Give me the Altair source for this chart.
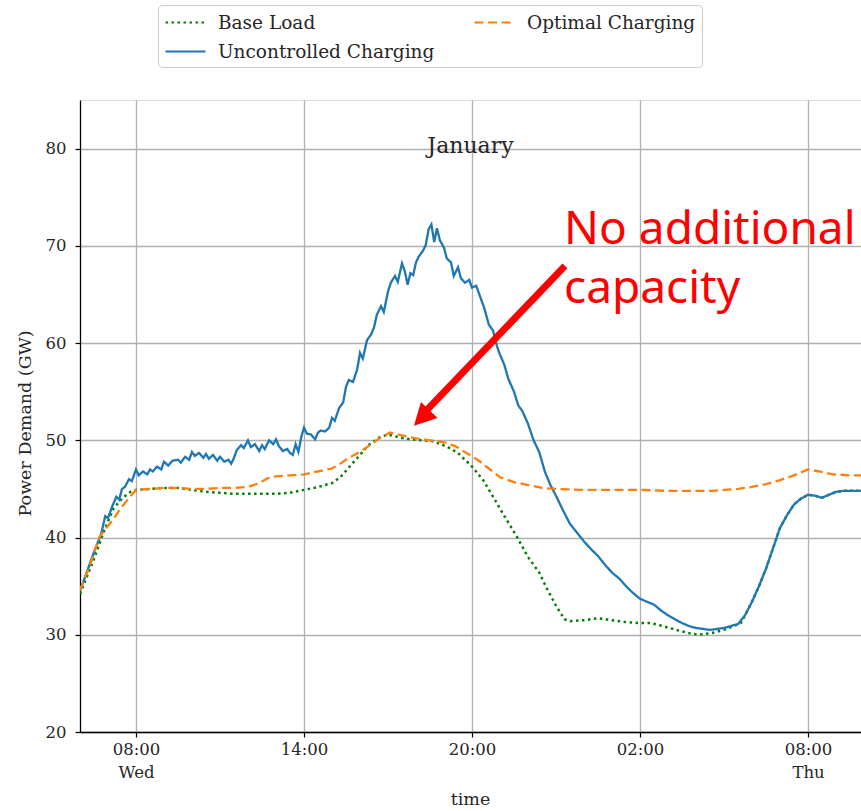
import altair as alt
import pandas as pd

# Hours are counted from Wednesday 00:00; values are in GW.
unc_hours = [6.0, 6.25, 6.5, 6.75, 6.9, 7.0, 7.15, 7.3, 7.4, 7.5, 7.6, 7.75, 7.85,
             8.0, 8.1, 8.25, 8.4, 8.5, 8.6, 8.75, 8.9, 9.0, 9.15, 9.3, 9.5, 9.6, 9.75, 9.9,
             10.0, 10.1, 10.25, 10.4, 10.5, 10.6, 10.75, 10.9, 11.0, 11.15, 11.3, 11.4, 11.5,
             11.6, 11.75, 11.85, 12.0, 12.1, 12.25, 12.4, 12.5, 12.6, 12.75, 12.9, 13.0, 13.1,
             13.25, 13.4, 13.5, 13.6, 13.7, 13.8, 13.9, 14.0, 14.1, 14.25, 14.4, 14.5, 14.6,
             14.75, 14.9, 15.0, 15.1, 15.25, 15.4, 15.5, 15.6, 15.75, 15.9, 16.0, 16.1, 16.25,
             16.4, 16.5, 16.6, 16.75, 16.85, 17.0, 17.1, 17.25, 17.35, 17.5, 17.6, 17.7, 17.8,
             17.9, 18.0, 18.1, 18.25, 18.35, 18.45, 18.55, 18.65, 18.75, 18.85, 19.0, 19.1,
             19.25, 19.35, 19.5, 19.6, 19.75, 19.9, 20.0, 20.15, 20.3, 20.45, 20.6, 20.75,
             20.9, 21.0, 21.15, 21.3, 21.5, 21.65, 21.8, 22.0, 22.2, 22.4, 22.6, 22.8, 23.0,
             23.25, 23.5, 23.75, 24.0, 24.25, 24.5, 24.75, 25.0, 25.25, 25.5, 25.75, 26.0,
             26.25, 26.5, 26.75, 27.0, 27.25, 27.5, 27.75, 28.0, 28.25, 28.5, 28.75, 29.0,
             29.25, 29.5, 29.75, 30.0, 30.25, 30.5, 30.75, 31.0, 31.25, 31.5, 31.75, 32.0,
             32.25, 32.5, 32.75, 33.0, 33.25, 33.5, 33.9]
unc_gw = [34.5, 36.5, 38.5, 40.3, 42.2, 42.0, 43.2, 44.2, 43.9, 45.0, 45.2, 46.0, 45.8,
          47.0, 46.4, 46.8, 46.5, 47.0, 46.8, 47.3, 47.0, 47.8, 47.4, 47.9, 48.0, 47.7, 48.3, 48.0,
          48.8, 48.4, 48.7, 48.2, 48.6, 48.1, 48.5, 47.9, 48.3, 47.8, 48.0, 47.6, 48.2,
          49.0, 49.5, 49.2, 50.0, 49.3, 49.6, 48.9, 49.5, 49.1, 50.0, 49.6, 50.1, 49.4,
          48.9, 49.1, 48.7, 48.5, 49.6, 48.8, 50.3, 51.3, 50.7, 50.6, 50.1, 50.8, 51.0,
          50.9, 51.3, 52.3, 52.0, 53.3, 53.9, 55.5, 56.2, 56.0, 57.3, 59.0, 58.4, 60.3,
          60.9, 61.6, 62.9, 63.8, 63.2, 65.3, 66.2, 66.9, 66.3, 68.2, 67.4, 66.0, 67.2,
          67.0, 68.3, 68.9, 69.5, 70.1, 71.7, 72.2, 70.4, 71.8, 70.6, 69.8, 68.7,
          68.3, 66.9, 67.8, 66.7, 66.2, 66.5, 65.7, 65.9, 64.7, 63.5, 61.9, 61.3,
          59.6, 58.8, 57.8, 56.3, 55.0, 53.6, 53.0, 51.7, 50.0, 48.8, 46.8, 45.4, 44.3,
          42.8, 41.4, 40.5, 39.6, 38.8, 38.1, 37.2, 36.4, 35.8, 35.0, 34.3, 33.7,
          33.4, 33.1, 32.5, 32.0, 31.6, 31.2, 30.9, 30.7, 30.6, 30.5, 30.6, 30.7,
          30.9, 31.1, 32.0, 33.4, 35.0, 36.8, 38.9, 41.0, 42.3, 43.4, 44.0, 44.4,
          44.3, 44.1, 44.4, 44.7, 44.8, 44.8, 44.8]

base_hours = [6.0, 6.5, 6.9, 7.2, 7.5, 7.8, 8.0, 8.5, 9.0, 9.5, 10.0, 10.5, 11.0, 11.5,
              12.0, 12.5, 13.0, 13.5, 14.0, 14.5, 15.0, 15.3, 15.6, 16.0, 16.3, 16.7, 17.0,
              17.4, 17.8, 18.2, 18.6, 18.9, 19.2, 19.5, 20.0, 20.4, 20.75, 21.2, 21.6, 22.0,
              22.4, 22.7, 23.0, 23.3, 23.5, 24.0, 24.5, 25.0, 25.5, 26.0, 26.4, 26.8, 27.3,
              27.7, 28.1, 28.6, 29.1, 29.6, 29.75, 30.0, 30.25, 30.5, 30.75, 31.0, 31.25,
              31.5, 31.75, 32.0, 32.25, 32.5, 32.75, 33.0, 33.25, 33.5, 33.9]
base_gw = [34.2, 37.8, 41.0, 43.0, 44.0, 44.7, 44.9, 45.0, 45.1, 45.1, 44.9, 44.7, 44.6, 44.5,
           44.5, 44.5, 44.5, 44.6, 44.9, 45.2, 45.6, 46.2, 47.2, 48.5, 49.5, 50.3, 50.6,
           50.3, 50.1, 50.0, 49.9, 49.6, 49.2, 48.7, 47.3, 45.9, 44.2, 42.0, 40.1, 38.0,
           36.4, 34.6, 33.0, 31.6, 31.4, 31.5, 31.7, 31.5, 31.3, 31.2, 31.2, 30.9, 30.5,
           30.2, 30.0, 30.2, 30.6, 31.2, 32.0, 33.4, 35.0, 36.8, 38.9, 41.0, 42.3,
           43.4, 44.0, 44.4, 44.3, 44.1, 44.4, 44.7, 44.8, 44.8, 44.8]

opt_hours = [6.0, 6.4, 6.7, 7.0, 7.2, 7.45, 7.7, 8.0, 8.5, 9.0, 9.5, 10.0, 10.5, 11.0, 11.5,
             12.0, 12.4, 12.7, 13.0, 13.5, 14.0, 14.5, 15.0, 15.3, 15.6, 16.0, 16.3, 16.7,
             17.07, 17.5, 18.0, 18.5, 19.0, 19.4, 19.8, 20.2, 20.6, 21.0, 21.5, 22.0, 22.5,
             23.0, 24.0, 25.0, 26.0, 27.0, 28.0, 28.6, 29.0, 29.5, 30.0, 30.5, 31.0, 31.5,
             32.0, 32.4, 32.9, 33.5, 33.9]
opt_gw = [34.6, 37.5, 40.1, 41.2, 41.9, 43.0, 43.9, 44.9, 45.0, 45.1, 45.1, 45.0, 45.0, 45.1,
          45.1, 45.2, 45.6, 46.1, 46.3, 46.4, 46.5, 46.8, 47.1, 47.6, 48.2, 48.8, 49.4, 50.2,
          50.8, 50.5, 50.2, 50.0, 49.8, 49.4, 48.7, 48.0, 47.1, 46.2, 45.7, 45.4, 45.1,
          45.0, 44.9, 44.9, 44.9, 44.8, 44.8, 44.8, 44.9, 45.0, 45.2, 45.5, 45.9, 46.4,
          47.0, 46.8, 46.5, 46.4, 46.4]

# Legend order: filled column by column (2 columns)
series_names = ["Base Load", "Uncontrolled Charging", "Optimal Charging"]
series_colors = ["#008000", "#1f77b4", "#ff7f0e"]
series_dashes = [[2.5, 3.5], [1, 0], [9, 4.5]]

tick_hours = [8, 14, 20, 26, 32]
tick_labels = [["08:00", "Wed"], ["14:00"], ["20:00"], ["02:00"], ["08:00", "Thu"]]
y_ticks = [20, 30, 40, 50, 60, 70, 80]

plot_title = "January"
title_gw = 80.3

# Callout: text anchor, arrow tail, arrow shaft end and arrow head (hours, GW)
note_text = "No additional\ncapacity"
note_pos = [23.29, 70.2]
arrow_tail = [23.32, 67.94]
arrow_end = [18.29, 52.82]
arrow_head = [18.2, 52.3]

SERIF = "DejaVu Serif"
TEXT_COLOR = "#262626"
X_MIN = 6
X_MAX = 6 + 781 / 28

frames = []
for name, hrs, vals in [("Base Load", base_hours, base_gw),
                        ("Uncontrolled Charging", unc_hours, unc_gw),
                        ("Optimal Charging", opt_hours, opt_gw)]:
    frames.append(pd.DataFrame({"hour": hrs, "gw": vals, "series": name}))
df = pd.concat(frames, ignore_index=True)


def label_expr():
    parts = []
    for h, lab in zip(tick_hours, tick_labels):
        if len(lab) > 1:
            txt = "[" + ", ".join(f"'{s}'" for s in lab) + "]"
        else:
            txt = f"'{lab[0]}'"
        parts.append(f"datum.value == {h} ? {txt} : ")
    return "".join(parts) + "''"


x_enc = alt.X(
    "hour:Q",
    scale=alt.Scale(domain=[X_MIN, X_MAX], nice=False, zero=False),
    axis=alt.Axis(values=tick_hours, labelExpr=label_expr(), title="time",
                  labelFont=SERIF, labelFontSize=16.5, labelColor=TEXT_COLOR,
                  labelLineHeight=23, labelPadding=4, labelBaseline="top",
                  tickSize=5, tickColor="black", tickWidth=1.2,
                  domainColor="black", domainWidth=1.3,
                  gridColor="#b0b0b0", gridWidth=1.3,
                  titleFont=SERIF, titleFontSize=17.5, titleFontWeight="normal",
                  titleColor=TEXT_COLOR, titleX=390, titleY=67,
                  titleBaseline="middle", labelFlush=False),
)
y_enc = alt.Y(
    "gw:Q",
    scale=alt.Scale(domain=[20, 85], nice=False, zero=False),
    axis=alt.Axis(values=y_ticks, title="Power Demand (GW)",
                  labelFont=SERIF, labelFontSize=16.5, labelColor=TEXT_COLOR,
                  labelPadding=9, tickSize=5, tickColor="black", tickWidth=1.2,
                  domainColor="black", domainWidth=1.3,
                  gridColor="#b0b0b0", gridWidth=1.3,
                  titleFont=SERIF, titleFontSize=17.5, titleFontWeight="normal",
                  titleColor=TEXT_COLOR, titleX=-55, titleY=323, titleAngle=270,
                  titleAlign="center", titleBaseline="middle", labelFlush=False),
)

legend = alt.Legend(
    title=None, orient="none", legendX=78, legendY=-95, columns=2,
    columnPadding=35, rowPadding=8, symbolType="M-2,0L2,0", symbolSize=400,
    symbolOffset=10, symbolStrokeWidth=2.2, labelFont=SERIF, labelFontSize=18.5,
    labelColor=TEXT_COLOR, labelOffset=21, padding=6, strokeColor="#cccccc",
    fillColor="white", cornerRadius=4, labelLimit=400,
)
color_enc = alt.Color("series:N", scale=alt.Scale(domain=series_names, range=series_colors),
                      legend=legend)
dash_enc = alt.StrokeDash("series:N", scale=alt.Scale(domain=series_names, range=series_dashes),
                          legend=legend)

base = alt.Chart(df)
layers = []
for name in ["Base Load", "Uncontrolled Charging", "Optimal Charging"]:
    width = 2.5 if name == "Base Load" else 2.3
    layers.append(
        base.transform_filter(alt.datum.series == name)
        .mark_line(strokeWidth=width, clip=True)
        .encode(x=x_enc, y=y_enc, color=color_enc, strokeDash=dash_enc)
    )

title_df = pd.DataFrame({"x": [(X_MIN + X_MAX) / 2], "y": [title_gw], "t": [plot_title]})
title = alt.Chart(title_df).mark_text(
    align="center", baseline="middle", font=SERIF, fontSize=22, color=TEXT_COLOR
).encode(x="x:Q", y="y:Q", text="t:N")

shaft_df = pd.DataFrame({"x": [arrow_tail[0]], "y": [arrow_tail[1]],
                         "x2": [arrow_end[0]], "y2": [arrow_end[1]]})
shaft = alt.Chart(shaft_df).mark_rule(color="#ff0000", strokeWidth=7).encode(
    x="x:Q", y="y:Q", x2="x2:Q", y2="y2:Q")

head_df = pd.DataFrame({"x": [arrow_head[0]], "y": [arrow_head[1]]})
head = alt.Chart(head_df).mark_point(
    shape="M0,-1 L1.05,1 L-1.05,1 Z", filled=True, color="#ff0000", opacity=1,
    size=484, angle=224, strokeWidth=0).encode(x="x:Q", y="y:Q")

note_df = pd.DataFrame({"x": [note_pos[0]], "y": [note_pos[1]], "t": [note_text]})
note = alt.Chart(note_df).mark_text(
    align="left", baseline="alphabetic", font="Noto Sans", fontSize=46,
    color="#ff0000", lineBreak="\n", lineHeight=59).encode(x="x:Q", y="y:Q", text="t:N")

chart = alt.layer(*layers, title, shaft, head, note).properties(
    width=781, height=632,
    autosize=alt.AutoSizeParams(type="none"),
    padding={"left": 80, "top": 100, "right": 0, "bottom": 79},
).configure_view(stroke="black", strokeWidth=1.3).configure(background="white")

chart.save("out.html", embed_options={"renderer": "svg", "actions": False})
